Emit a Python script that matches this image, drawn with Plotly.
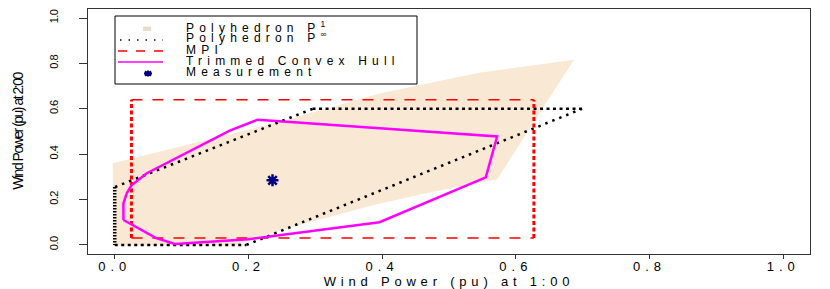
import plotly.graph_objects as go

# ---------------- data ----------------
# Polyhedron P^1 (filled region)
P1_X = [-0.003, 0.18, 0.216, 0.286, 0.386, 0.465, 0.572, 0.687, 0.545, 0.396, 0.25, 0.078, 0.027, -0.003]
P1_Y = [-0.003, -0.003, 0.036, 0.096, 0.175, 0.228, 0.29, 0.816, 0.759, 0.667, 0.545, 0.417, 0.38, 0.36]

# Polyhedron P^inf (dotted outline), vertices in order
PINF_X = [0.0, 0.197, 0.699, 0.296, 0.0, 0.0]
PINF_Y = [0.0, 0.0, 0.60, 0.60, 0.255, 0.0]

# MPI rectangle
MPI_X = [0.025, 0.627]
MPI_Y = [0.031, 0.640]

# Trimmed convex hull
HULL_X = [0.013, 0.013, 0.018, 0.025, 0.048, 0.172, 0.214, 0.572, 0.555, 0.396, 0.200, 0.090, 0.062, 0.013]
HULL_Y = [0.110, 0.184, 0.228, 0.263, 0.316, 0.504, 0.552, 0.478, 0.298, 0.100, 0.025, 0.004, 0.030, 0.110]

# Measurement
MEAS_X = [0.236]
MEAS_Y = [0.285]

TICKS = [0.0, 0.2, 0.4, 0.6, 0.8, 1.0]
TICK_TEXT = ["0.0", "0.2", "0.4", "0.6", "0.8", "1.0"]

LEGEND_LABELS = ["Polyhedron P<sup>1</sup>", "Polyhedron P<sup>\u221e</sup>", "MPI",
                 "Trimmed Convex Hull", "Measurement"]

X_TITLE = "Wind Power (pu) at 1:00"
Y_TITLE = "Wind Power (pu) at 2:00"

# ---------------- layout constants ----------------
OFF = 8                      # page body margin of the html page
W, H = 830 - OFF, 289 - OFF
ML, MR, MT = 88 - OFF, 20, 1
MB = H - (254 - OFF)         # plot bottom at page y=254
PW, PH = W - ML - MR, H - MT - MB

BEIGE = "#F9E8D4"
FONT = "Liberation Sans, Arial, sans-serif"


def px(xp):
    """page pixel x -> paper x"""
    return (xp - OFF - ML) / PW


def py(yp):
    """page pixel y -> paper y"""
    return (H - MB - (yp - OFF)) / PH


def spaced(t, ls):
    return '<span style="letter-spacing:%spx">%s</span>' % (ls, t)


fig = go.Figure()

# P^1 fill
fig.add_trace(go.Scatter(x=P1_X, y=P1_Y, mode="lines", fill="toself",
                         fillcolor=BEIGE, line=dict(width=0, color=BEIGE),
                         hoverinfo="skip"))

# P^inf dotted outline, split by orientation
def seg_trace(idx_pairs, dash, width):
    xs, ys = [], []
    for a, b in idx_pairs:
        xs += [PINF_X[a], PINF_X[b], None]
        ys += [PINF_Y[a], PINF_Y[b], None]
    return go.Scatter(x=xs, y=ys, mode="lines",
                      line=dict(color="black", width=width, dash=dash),
                      hoverinfo="skip")

fig.add_trace(seg_trace([(0, 1), (2, 3)], "3px,3.5px", 2.5))
fig.add_trace(seg_trace([(1, 2), (3, 4)], "2.5px,5px", 2.5))
fig.add_trace(seg_trace([(4, 5)], "1.5px,1.5px", 3.5))

# MPI rectangle
fig.add_trace(go.Scatter(
    x=[MPI_X[0], MPI_X[1], None, MPI_X[0], MPI_X[1]],
    y=[MPI_Y[1], MPI_Y[1], None, MPI_Y[0], MPI_Y[0]],
    mode="lines", line=dict(color="#FF0000", width=1.5, dash="11px,10px"),
    hoverinfo="skip"))
fig.add_trace(go.Scatter(
    x=[MPI_X[0], MPI_X[0], None, MPI_X[1], MPI_X[1]],
    y=[MPI_Y[0], MPI_Y[1], None, MPI_Y[0], MPI_Y[1]],
    mode="lines", line=dict(color="#FF0000", width=3, dash="4px,2.5px"),
    hoverinfo="skip"))

# Trimmed convex hull
fig.add_trace(go.Scatter(x=HULL_X, y=HULL_Y, mode="lines",
                         line=dict(color="#FF00FF", width=2.5), hoverinfo="skip"))

# Measurement
fig.add_trace(go.Scatter(x=MEAS_X, y=MEAS_Y, mode="markers",
                         marker=dict(symbol="asterisk-open", size=10, color="#000080",
                                     line=dict(color="#000080", width=2.5)),
                         hoverinfo="skip"))

# ---------------- manual legend ----------------
shapes = []
annotations = []
lx0, lx1, ly0, ly1 = 115, 417, 16, 84
shapes.append(dict(type="rect", xref="paper", yref="paper",
                   x0=px(lx0), x1=px(lx1), y0=py(ly1), y1=py(ly0),
                   line=dict(color="black", width=1), fillcolor="white", layer="above"))
rows = [29, 40, 51, 62, 73.5]
baselines = [33.3, 43.3, 55.0, 66.0, 77.3]
# swatch
shapes.append(dict(type="rect", xref="paper", yref="paper",
                   x0=px(143), x1=px(151), y0=py(rows[0] + 2), y1=py(rows[0] - 2.5),
                   line=dict(width=0), fillcolor="#E9DCCB", layer="above"))
shapes.append(dict(type="line", xref="paper", yref="paper",
                   x0=px(120), x1=px(163), y0=py(rows[1]), y1=py(rows[1]),
                   line=dict(color="black", width=1.5, dash="1.5px,7px"), layer="above"))
shapes.append(dict(type="line", xref="paper", yref="paper",
                   x0=px(118), x1=px(164), y0=py(rows[2]), y1=py(rows[2]),
                   line=dict(color="#FF0000", width=1.5, dash="9px,9px"), layer="above"))
shapes.append(dict(type="line", xref="paper", yref="paper",
                   x0=px(118), x1=px(163), y0=py(rows[3]), y1=py(rows[3]),
                   line=dict(color="#FF00FF", width=1.5), layer="above"))
# asterisk glyph in pixel units
cx, cy = px(148), py(rows[4])
shapes.append(dict(type="path", xref="paper", yref="paper",
                   xsizemode="pixel", ysizemode="pixel", xanchor=cx, yanchor=cy,
                   path="M-4,0 L4,0 M0,-3 L0,3 M-3,-2.2 L3,2.2 M-3,2.2 L3,-2.2",
                   line=dict(color="#000080", width=2), layer="above"))
for lab, b in zip(LEGEND_LABELS, baselines):
    annotations.append(dict(xref="paper", yref="paper", x=px(185), y=py(b + 2.6),
                            xanchor="left", yanchor="bottom", showarrow=False,
                            borderpad=0,
                            text=spaced(lab, 5.2),
                            font=dict(family=FONT, size=12, color="black")))

axis_common = dict(range=[-0.04, 1.04], tickvals=TICKS, showgrid=False, zeroline=False,
                   showline=True, linecolor="#333333", linewidth=1, mirror=True,
                   ticks="outside", tickcolor="#333333", tickwidth=1)

fig.update_layout(
    width=W, height=H,
    margin=dict(l=ML, r=MR, t=MT, b=MB, autoexpand=False),
    paper_bgcolor="white", plot_bgcolor="white",
    showlegend=False,
    xaxis=dict(**axis_common, ticklen=4, ticklabelstandoff=-4,
               ticktext=[spaced(t, 5) for t in TICK_TEXT],
               tickfont=dict(family=FONT, size=13, color="black"),
               title=dict(text=spaced(X_TITLE, 4.8), standoff=0,
                          font=dict(family=FONT, size=13, color="black"))),
    yaxis=dict(**axis_common, ticklen=8, tickangle=-90,
               ticktext=[spaced(t, -0.5) for t in TICK_TEXT], ticklabelstandoff=17,
               tickfont=dict(family=FONT, size=11, color="black"),
               title=dict(text=spaced(Y_TITLE, -1.5), standoff=20,
                          font=dict(family=FONT, size=14, color="black"))),
    shapes=shapes, annotations=annotations,
)

fig.write_html("out.html")
